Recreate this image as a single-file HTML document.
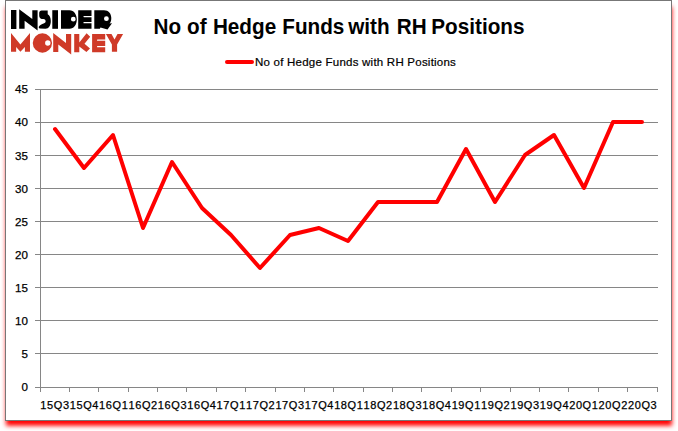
<!DOCTYPE html>
<html><head><meta charset="utf-8">
<style>
html,body{margin:0;padding:0;background:#fff;}
body{width:678px;height:431px;position:relative;overflow:hidden;font-family:"Liberation Sans",sans-serif;}
#box{position:absolute;left:5px;top:0;width:665px;height:419px;border:1px solid #777;background:#fff;box-shadow:0.6px 6px 4.5px -0.8px #ff0000;}
svg{position:absolute;left:0;top:0;}
.ay{font-family:"Liberation Sans",sans-serif;font-size:11.6px;fill:#000;stroke:#000;stroke-width:0.25px;}
.ax{font-family:"Liberation Sans",sans-serif;font-size:11px;letter-spacing:0.6px;fill:#000;stroke:#000;stroke-width:0.25px;}
.lg{font-family:"Liberation Sans",sans-serif;font-size:11.5px;letter-spacing:0.23px;fill:#000;stroke:#000;stroke-width:0.2px;}
.tt{font-family:"Liberation Sans",sans-serif;font-size:21.5px;font-weight:bold;fill:#000;}
</style></head><body>
<div id="box"></div>
<svg width="678" height="431" viewBox="0 0 678 431" shape-rendering="auto">
<g shape-rendering="crispEdges">
<rect x="35" y="89" width="623" height="1" fill="#868686"/>
<rect x="35" y="122" width="623" height="1" fill="#868686"/>
<rect x="35" y="155" width="623" height="1" fill="#868686"/>
<rect x="35" y="188" width="623" height="1" fill="#868686"/>
<rect x="35" y="221" width="623" height="1" fill="#868686"/>
<rect x="35" y="254" width="623" height="1" fill="#868686"/>
<rect x="35" y="287" width="623" height="1" fill="#868686"/>
<rect x="35" y="320" width="623" height="1" fill="#868686"/>
<rect x="35" y="353" width="623" height="1" fill="#868686"/>
<rect x="35" y="387" width="623" height="1" fill="#868686"/>
<rect x="40" y="89" width="1" height="303" fill="#868686"/>
<rect x="40" y="387" width="1" height="5" fill="#868686"/>
<rect x="69" y="387" width="1" height="5" fill="#868686"/>
<rect x="98" y="387" width="1" height="5" fill="#868686"/>
<rect x="128" y="387" width="1" height="5" fill="#868686"/>
<rect x="157" y="387" width="1" height="5" fill="#868686"/>
<rect x="186" y="387" width="1" height="5" fill="#868686"/>
<rect x="216" y="387" width="1" height="5" fill="#868686"/>
<rect x="245" y="387" width="1" height="5" fill="#868686"/>
<rect x="275" y="387" width="1" height="5" fill="#868686"/>
<rect x="304" y="387" width="1" height="5" fill="#868686"/>
<rect x="333" y="387" width="1" height="5" fill="#868686"/>
<rect x="363" y="387" width="1" height="5" fill="#868686"/>
<rect x="392" y="387" width="1" height="5" fill="#868686"/>
<rect x="421" y="387" width="1" height="5" fill="#868686"/>
<rect x="451" y="387" width="1" height="5" fill="#868686"/>
<rect x="480" y="387" width="1" height="5" fill="#868686"/>
<rect x="510" y="387" width="1" height="5" fill="#868686"/>
<rect x="539" y="387" width="1" height="5" fill="#868686"/>
<rect x="568" y="387" width="1" height="5" fill="#868686"/>
<rect x="598" y="387" width="1" height="5" fill="#868686"/>
<rect x="627" y="387" width="1" height="5" fill="#868686"/>
<rect x="657" y="387" width="1" height="5" fill="#868686"/>
</g>
<text x="28" y="93.30" text-anchor="end" class="ay">45</text>
<text x="28" y="126.41" text-anchor="end" class="ay">40</text>
<text x="28" y="159.52" text-anchor="end" class="ay">35</text>
<text x="28" y="192.63" text-anchor="end" class="ay">30</text>
<text x="28" y="225.74" text-anchor="end" class="ay">25</text>
<text x="28" y="258.86" text-anchor="end" class="ay">20</text>
<text x="28" y="291.97" text-anchor="end" class="ay">15</text>
<text x="28" y="325.08" text-anchor="end" class="ay">10</text>
<text x="28" y="358.19" text-anchor="end" class="ay">5</text>
<text x="28" y="391.30" text-anchor="end" class="ay">0</text>
<text x="54.99" y="409" text-anchor="middle" class="ax">15Q3</text>
<text x="84.37" y="409" text-anchor="middle" class="ax">15Q4</text>
<text x="113.75" y="409" text-anchor="middle" class="ax">16Q1</text>
<text x="143.13" y="409" text-anchor="middle" class="ax">16Q2</text>
<text x="172.51" y="409" text-anchor="middle" class="ax">16Q3</text>
<text x="201.90" y="409" text-anchor="middle" class="ax">16Q4</text>
<text x="231.28" y="409" text-anchor="middle" class="ax">17Q1</text>
<text x="260.66" y="409" text-anchor="middle" class="ax">17Q2</text>
<text x="290.04" y="409" text-anchor="middle" class="ax">17Q3</text>
<text x="319.42" y="409" text-anchor="middle" class="ax">17Q4</text>
<text x="348.80" y="409" text-anchor="middle" class="ax">18Q1</text>
<text x="378.18" y="409" text-anchor="middle" class="ax">18Q2</text>
<text x="407.56" y="409" text-anchor="middle" class="ax">18Q3</text>
<text x="436.94" y="409" text-anchor="middle" class="ax">18Q4</text>
<text x="466.32" y="409" text-anchor="middle" class="ax">19Q1</text>
<text x="495.70" y="409" text-anchor="middle" class="ax">19Q2</text>
<text x="525.09" y="409" text-anchor="middle" class="ax">19Q3</text>
<text x="554.47" y="409" text-anchor="middle" class="ax">19Q4</text>
<text x="583.85" y="409" text-anchor="middle" class="ax">20Q1</text>
<text x="613.23" y="409" text-anchor="middle" class="ax">20Q2</text>
<text x="642.61" y="409" text-anchor="middle" class="ax">20Q3</text>
<polyline points="55,129 84,168 113,135 143,228 172,162 202,208 231,235 260,268 290,235 319,228 348,241 378,202 407,202 437,202 466,149 495,202 525,155 554,135 584,188 613,122 642,122" fill="none" stroke="#ff0000" stroke-width="4" stroke-linejoin="round" stroke-linecap="round"/>
<line x1="227" y1="62" x2="252" y2="62" stroke="#ff0000" stroke-width="4" stroke-linecap="round"/>
<text x="255" y="66" class="lg">No of Hedge Funds with RH Positions</text>
<text transform="translate(153.60,34) scale(0.963,1)" x="0" y="0" class="tt">No</text>
<text transform="translate(187.00,34) scale(0.963,1)" x="0" y="0" class="tt">of</text>
<text transform="translate(212.90,34) scale(0.963,1)" x="0" y="0" class="tt">Hedge</text>
<text transform="translate(282.30,34) scale(0.963,1)" x="0" y="0" class="tt">Funds</text>
<text transform="translate(348.20,34) scale(0.963,1)" x="0" y="0" class="tt">with</text>
<text transform="translate(396.80,34) scale(0.963,1)" x="0" y="0" class="tt">RH</text>
<text transform="translate(431.30,34) scale(0.963,1)" x="0" y="0" class="tt">Positions</text>
<g id="logo">
<g fill="#000">
<rect x="11" y="10" width="5.4" height="19"/>
<path d="M19.2,9.2 L32.3,19.1 L32.3,10.2 L37.6,10.2 L37.6,30.6 L24.6,20.8 L24.6,28.8 L19.2,28.8 Z"/>
<path d="M41.6,10.46 L47.7,10.46 L47.7,14.2 C49.6,15.3 50.8,17.8 50.8,21 C50.8,25.5 48.8,28.75 45.5,28.75 L39.8,28.6 C39,28.3 38.6,27.5 38.8,26.7 C40,25.3 41.8,24.2 43.6,23.6 C45.2,23 45.8,21.9 45.6,21 C45.4,19.8 44.6,19.2 43.5,19.1 C42.6,19 42,19 41.6,18.9 C40.1,18.6 39.2,17.4 39.2,15.8 L39.2,13 C39.2,11.4 40.2,10.46 41.6,10.46 Z"/>
<rect x="52.3" y="10.2" width="5.7" height="18.6"/>
<path fill-rule="evenodd" d="M61,10.2 L69.5,10.2 C74,10.2 76.8,14.5 76.8,19.5 C76.8,24.5 74,28.8 69.5,28.8 L61,28.8 Z M73.3,19.2 m-2.4,0 a2.4,2.4 0 1 0 4.8,0 a2.4,2.4 0 1 0 -4.8,0 Z"/>
<path d="M78.2,10.2 L91.5,10.2 L91.5,16 L84,16 A0.6,0.6 0 0 0 84,17.2 L91.5,17.2 L91.5,22.1 L84,22.1 A0.6,0.6 0 0 0 84,23.3 L91.5,23.3 L91.5,28.7 L78.2,28.7 Z"/>
<path fill-rule="evenodd" d="M94.3,10.2 L104,10.2 C108.5,10.2 111.3,13.5 111.3,18 C111.3,21 110.5,22.5 109.5,23.5 L112,23.2 L107.5,29.5 L100.5,27.6 L99.8,28.8 L94.3,28.8 Z M106.4,18.7 m-2.4,0 a2.4,2.4 0 1 0 4.8,0 a2.4,2.4 0 1 0 -4.8,0 Z"/>
</g>
<g fill="#cf3a28">
<path d="M11,33 L20.4,44.5 L30,33 L30,51.7 L24.9,51.7 L24.9,46.9 L20.4,51.7 L16.15,46.9 L16.15,51.7 L11,51.7 Z"/>
<path fill-rule="evenodd" d="M42.4,43 m-9.65,0 a9.65,9.65 0 1 0 19.3,0 a9.65,9.65 0 1 0 -19.3,0 Z M47.8,43 m-2.7,0 a2.7,2.7 0 1 0 5.4,0 a2.7,2.7 0 1 0 -5.4,0 Z"/>
<path d="M53.2,33 L66,43 L66,33.9 L71.2,33.9 L71.2,54.5 L58.3,44.4 L58.3,52 L53.2,52 Z"/>
<path d="M74.2,33.9 L79.3,33.9 L79.3,42.5 L86.6,33.3 L90.2,36.8 L84.5,43.8 L90,48.4 L86.4,52 L79.3,46.5 L79.3,52.3 L74.2,52.3 Z"/>
<path d="M92.1,33.9 L105.2,33.9 L105.2,39.6 L97.6,39.6 A0.6,0.6 0 0 0 97.6,40.8 L105.2,40.8 L105.2,46.1 L97.6,46.1 A0.6,0.6 0 0 0 97.6,47.3 L105.2,47.3 L105.2,52.2 L92.1,52.2 Z"/>
<path d="M105.9,33.9 L111.5,33.9 L114.5,39.5 L117.5,33.9 L123.1,33.9 L117.1,44.5 L117.1,51.7 L111.9,51.7 L111.9,44.5 Z"/>
</g>
</g>

</svg>
</body></html>
